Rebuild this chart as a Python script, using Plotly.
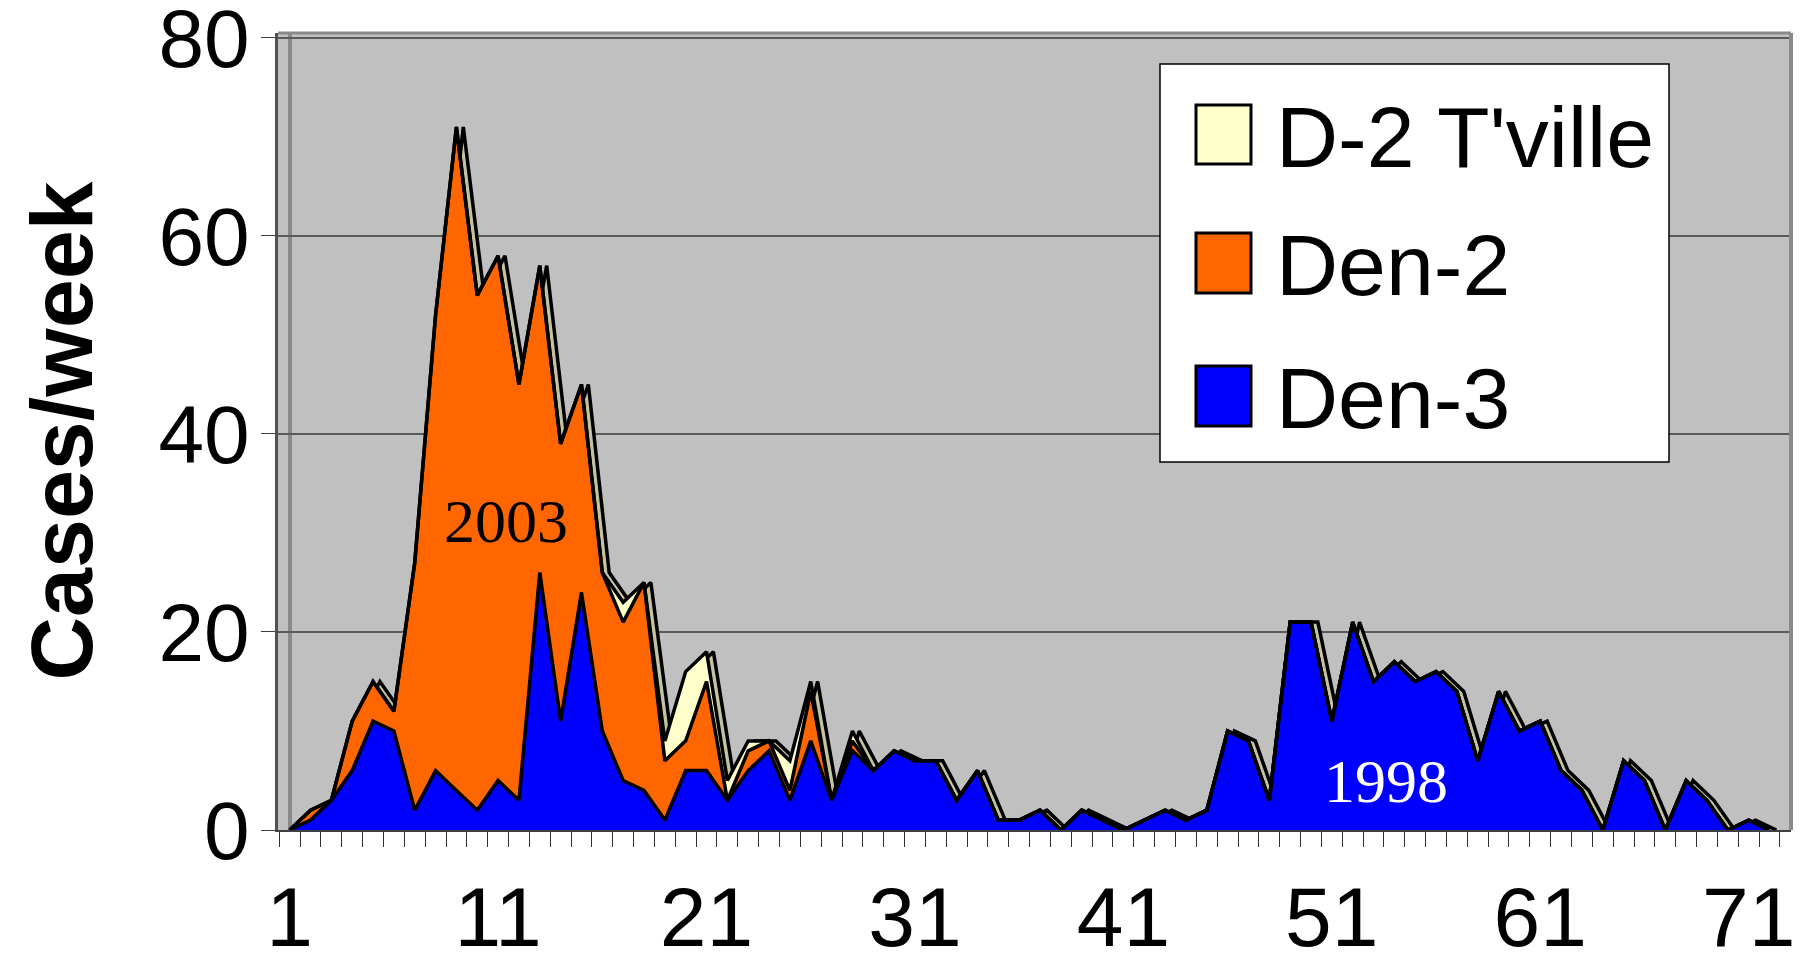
import plotly.graph_objects as go

# ---------------- data ----------------
weeks = list(range(1, 73))

den3 = [0, 1, 3, 6, 11, 10, 2, 6, 4, 2,
        5, 3, 26, 11, 24, 10, 5, 4, 1, 6,
        6, 3, 6, 8, 3, 9, 3, 8, 6, 8,
        7, 7, 3, 6, 1, 1, 2, 0, 2, 1,
        0, 1, 2, 1, 2, 10, 9, 3, 21, 21,
        11, 21, 15, 17, 15, 16, 14, 7, 14, 10,
        11, 6, 4, 0, 7, 5, 0, 5, 3, 0,
        1, 0]

den2 = [0, 1, 0, 5, 4, 2, 25, 46, 67, 52,
        53, 42, 31, 28, 21, 16, 16, 21, 6, 3,
        9, 0, 2, 1, 1, 5, 0, 1, 0, 0,
        0, 0, 0, 0, 0, 0, 0, 0, 0, 0,
        0, 0, 0, 0, 0, 0, 0, 0, 0, 0,
        0, 0, 0, 0, 0, 0, 0, 0, 0, 0,
        0, 0, 0, 0, 0, 0, 0, 0, 0, 0,
        0, 0]

tville = [0, 0, 0, 0, 0, 0, 0, 0, 0, 0,
          0, 0, 0, 0, 0, 0, 2, 0, 2, 7,
          3, 2, 1, 0, 3, 1, 0, 1, 0, 0,
          0, 0, 0, 0, 0, 0, 0, 0, 0, 0,
          0, 0, 0, 0, 0, 0, 0, 0, 0, 0,
          0, 0, 0, 0, 0, 0, 0, 0, 0, 0,
          0, 0, 0, 0, 0, 0, 0, 0, 0, 0,
          0, 0]

series_names = ["D-2 T'ville", "Den-2", "Den-3"]
x_tick_values = [1, 11, 21, 31, 41, 51, 61, 71]
x_tick_labels = ["1", "11", "21", "31", "41", "51", "61", "71"]
y_tick_values = [0, 20, 40, 60, 80]
y_tick_labels = ["0", "20", "40", "60", "80"]
year_labels = ["2003", "1998"]

# ---------------- styling ----------------
OFF = 8                      # page body margin of the html page
W, H = 1801 - OFF, 966 - OFF
ML, MR, MT, MB = 270, 10, 25, 136
PW, PH = W - ML - MR, H - MT - MB

C_TV, C_D2, C_D3 = "#FFFFCC", "#FF6600", "#0000FF"
C_FACE = "#C4C2A0"
SANS = "Liberation Sans, Arial, sans-serif"
SERIF = "Liberation Serif, Times New Roman, serif"
LW = 3.5


def px_x(px):
    """page pixel -> paper fraction"""
    return (px - OFF - ML) / PW


def px_y(py):
    return (H - MB - (py - OFF)) / PH


totals = [a + b + c for a, b, c in zip(den3, den2, tville)]

fig = go.Figure()

# 3-D top face of the front series (offset copy of the stack top)
fig.add_trace(go.Scatter(
    x=[w + 0.33 for w in weeks], y=totals, mode="lines",
    fill="tozeroy", fillcolor=C_FACE,
    line=dict(color="black", width=LW), showlegend=False, hoverinfo="skip"))

for name, vals, col in [("Den-3", den3, C_D3), ("Den-2", den2, C_D2),
                        ("D-2 T'ville", tville, C_TV)]:
    fig.add_trace(go.Scatter(
        x=weeks, y=vals, name=name, mode="lines", stackgroup="s",
        fillcolor=col, line=dict(color="black", width=LW),
        showlegend=False))

shapes = []
# left wall
shapes.append(dict(type="rect", xref="paper", yref="paper",
                   x0=px_x(279), x1=px_x(288), y0=0, y1=1,
                   fillcolor="#C0C0C0", line=dict(width=0), layer="between"))
shapes.append(dict(type="line", xref="paper", yref="paper",
                   x0=px_x(290), x1=px_x(290), y0=0, y1=1,
                   line=dict(color="#8A8A8A", width=4), layer="between"))
# top / right border of the wall
shapes.append(dict(type="line", xref="paper", yref="paper",
                   x0=px_x(278), x1=1, y0=1, y1=1,
                   line=dict(color="#8A8A8A", width=3), layer="above"))
shapes.append(dict(type="line", xref="paper", yref="paper",
                   x0=1, x1=1, y0=0, y1=1,
                   line=dict(color="#8A8A8A", width=4), layer="above"))

# legend box
lx0, lx1, ly0, ly1 = 1160, 1669, 64, 462
shapes.append(dict(type="rect", xref="paper", yref="paper",
                   x0=px_x(lx0), x1=px_x(lx1), y0=px_y(ly1), y1=px_y(ly0),
                   fillcolor="white", line=dict(color="black", width=1.5),
                   layer="above"))
legend_rows = [(series_names[0], C_TV, 105, 164, 137),
               (series_names[1], C_D2, 233, 293, 265),
               (series_names[2], C_D3, 366, 426, 398)]
annotations = []
for name, col, sy0, sy1, ty in legend_rows:
    shapes.append(dict(type="rect", xref="paper", yref="paper",
                       x0=px_x(1196), x1=px_x(1251), y0=px_y(sy1), y1=px_y(sy0),
                       fillcolor=col, line=dict(color="black", width=3),
                       layer="above"))
    annotations.append(dict(xref="paper", yref="paper", x=px_x(1274), y=px_y(ty),
                            text=name, showarrow=False, xanchor="left",
                            yanchor="middle",
                            font=dict(family=SANS, size=86, color="black")))

annotations.append(dict(x=11.4, y=31.2, xref="x", yref="y", text=year_labels[0],
                        showarrow=False,
                        font=dict(family=SERIF, size=62, color="black")))
annotations.append(dict(x=53.6, y=4.9, xref="x", yref="y", text=year_labels[1],
                        showarrow=False,
                        font=dict(family=SERIF, size=62, color="white")))
annotations.append(dict(xref="paper", yref="paper", x=px_x(9), y=px_y(431),
                        text="<b>Cases/week</b>", showarrow=False, textangle=-90,
                        xanchor="left", yanchor="middle",
                        font=dict(family=SANS, size=88, color="black")))

fig.update_layout(
    width=W, height=H,
    margin=dict(l=ML, r=MR, t=MT, b=MB, pad=0),
    paper_bgcolor="white", plot_bgcolor="#C0C0C0",
    showlegend=False,
    shapes=shapes, annotations=annotations,
    xaxis=dict(range=[0.44, 73.03], tickmode="array",
               tickvals=x_tick_values, ticktext=x_tick_labels,
               ticks="", showgrid=False, zeroline=False, automargin=False,
               showline=True, linecolor="#404040", linewidth=2,
               tickfont=dict(family=SANS, size=84, color="black"),
               ticklabelstandoff=13, ticklabeloverflow="allow",
               minor=dict(tickmode="linear", tick0=0.5, dtick=1,
                          ticks="outside", ticklen=15, tickwidth=1,
                          tickcolor="#333333", showgrid=False)),
    yaxis=dict(range=[0, 80.5], tickmode="array",
               tickvals=y_tick_values, ticktext=y_tick_labels,
               ticks="outside", ticklen=14, tickwidth=1, tickcolor="#404040",
               showgrid=True, gridcolor="#5A5A5A", gridwidth=2,
               zeroline=False, showline=True, linecolor="#505050", linewidth=3,
               automargin=False, ticklabeloverflow="allow",
               tickfont=dict(family=SANS, size=82, color="black"),
               ticklabelstandoff=-5),
)

fig.write_html("out.html")
